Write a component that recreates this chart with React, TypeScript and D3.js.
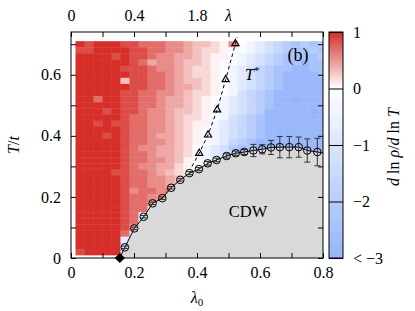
import React, { useEffect, useRef } from "react";
import * as d3 from "d3";

const FONT = "'Liberation Serif', 'DejaVu Serif', serif";

// heat map grid: columns at lambda0 = k * 0.8/28 (k = 1..28), rows at T = 0.02 j
// rows are listed from the top (T = 0.70) down to T = 0.02; "." = hidden under CDW
const lam0Step = 0.8 / 28;
const tStep = 0.02;
const heatRows = [
  "98999 88777 66544 32610 abcde ded",
  "88999 98877 66543 32110 abcde ede",
  "99998 98876 65543 2210a bcdee eed",
  "99999 98756 65443 2110a bcdee fee",
  "99999 88876 65433 210ab cdeef fee",
  "99999 98877 65433 210ab cdeff ffe",
  "99999 48877 65443 210ab cdeff fff",
  "99999 98877 65543 210ab cdeff fff",
  "99999 88776 65433 210bc defff fff",
  "99799 88776 55432 10abc deffg fff",
  "99999 88776 55432 10abc defff fff",
  "99989 88766 54432 10abc dffff fgf",
  "99999 87766 54332 10bcd effff fff",
  "99898 87766 54322 0abcd effff fff",
  "99999 87766 54321 0abcd effff fff",
  "99989 87765 54321 0abcd effff fff",
  "99999 87766 54321 0acde fffff fff",
  "99999 87665 54310 abdee fffff fff",
  "99999 87765 54310 abcde ..... .ff",
  "99999 87766 54210 ab... ..... ...",
  "99999 87665 53210 ..... ..... ...",
  "99998 87765 4321. ..... ..... ...",
  "99999 87766 543.. ..... ..... ...",
  "99999 87766 54... ..... ..... ...",
  "99999 86776 7.... ..... ..... ...",
  "99999 87766 ..... ..... ..... ...",
  "99999 87766 ..... ..... ..... ...",
  "99999 8770. ..... ..... ..... ...",
  "99999 87a.. ..... ..... ..... ...",
  "99999 87a.. ..... ..... ..... ...",
  "99999 86... ..... ..... ..... ...",
  "99999 7a... ..... ..... ..... ...",
  "99999 aa... ..... ..... ..... ...",
  "99999 b.... ..... ..... ..... ...",
  "89999 b.... ..... ..... ..... ...",
];
// d ln rho / d ln T for each level character
const levelValues: Record<string, number> = {
  "9": 1.0, "8": 0.85, "7": 0.7, "6": 0.55, "5": 0.42, "4": 0.3, "3": 0.18, "2": 0.06,
  "1": -0.15, "0": -0.4, a: -0.8, b: -1.2, c: -1.6, d: -2.0, e: -2.4, f: -2.8, g: -3.0,
};

// CDW transition line
const qcpLam0 = 0.155;
const cdwLam0 = [0.171, 0.201, 0.231, 0.259, 0.29, 0.318, 0.347, 0.376, 0.406, 0.434, 0.462,
  0.494, 0.523, 0.55, 0.579, 0.607, 0.635, 0.663, 0.693, 0.723, 0.75, 0.782];
const cdwT = [0.035, 0.097, 0.135, 0.179, 0.196, 0.23, 0.256, 0.278, 0.291, 0.31, 0.321,
  0.334, 0.343, 0.347, 0.352, 0.356, 0.362, 0.363, 0.363, 0.363, 0.352, 0.347];
const cdwErr = [0.004, 0.004, 0.004, 0.004, 0.004, 0.004, 0.004, 0.005, 0.005, 0.006, 0.006,
  0.007, 0.007, 0.008, 0.02, 0.015, 0.023, 0.035, 0.035, 0.033, 0.038, 0.045];

// T* crossover
const tStarLam0 = [0.407, 0.435, 0.464, 0.491, 0.522];
const tStarT = [0.343, 0.403, 0.485, 0.584, 0.702];
const tStarLineLam0 = [0.384, 0.407, 0.435, 0.464, 0.491, 0.522, 0.527];
const tStarLineT = [0.3, 0.343, 0.403, 0.485, 0.584, 0.702, 0.722];

const xTicks = [0, 0.1, 0.2, 0.3, 0.4, 0.5, 0.6, 0.7, 0.8];
const xLabels = [0, 0.2, 0.4, 0.6, 0.8];
const yTicks = [0, 0.1, 0.2, 0.3, 0.4, 0.5, 0.6, 0.7];
const yLabels = [0, 0.2, 0.4, 0.6];
const topTickPos = [0, 0.2, 0.4];
const topTickText = ["0", "0.4", "1.8"];
const cbarTicks = [1, 0, -1, -2, -3];
const cbarText = ["1", "0", "\u22121", "\u22122", "< \u22123"];

const fmt = (d: number) => (d === 0 ? "0" : String(d));

export default function App() {
  const ref = useRef<SVGSVGElement>(null);

  useEffect(() => {
    const svg = d3.select(ref.current);
    svg.selectAll("*").remove();

    const left = 71, right = 323, top = 32, bottom = 258;
    const x = d3.scaleLinear().domain([0, 0.8]).range([left, right]);
    const y = d3.scaleLinear().domain([0, 0.74]).range([bottom, top]);
    const color = d3.scaleLinear<string>().domain([-3, 0, 1])
      .range(["#94b4fa", "#ffffff", "#d62e28"]).clamp(true);

    const defs = svg.append("defs");
    defs.append("clipPath").attr("id", "plotclip").append("rect")
      .attr("x", left).attr("y", top).attr("width", right - left).attr("height", bottom - top);

    // heat map cells
    const cells: { lam: number; t: number; v: number }[] = [];
    heatRows.forEach((row, i) => {
      const j = heatRows.length - i;
      row.replace(/ /g, "").split("").forEach((ch, k) => {
        if (ch === ".") return;
        cells.push({ lam: (k + 1) * lam0Step, t: j * tStep, v: levelValues[ch] });
      });
    });
    const plot = svg.append("g").attr("clip-path", "url(#plotclip)");
    plot.selectAll("rect.cell").data(cells).join("rect")
      .attr("class", "cell")
      .attr("x", (d) => x(d.lam - lam0Step / 2))
      .attr("y", (d) => y(d.t + tStep / 2))
      .attr("width", x(lam0Step) - x(0) + 0.4)
      .attr("height", y(0) - y(tStep) + 0.4)
      .attr("fill", (d) => color(d.v));

    // CDW region
    const n = cdwLam0.length;
    const slope = (cdwT[n - 1] - cdwT[n - 2]) / (cdwLam0[n - 1] - cdwLam0[n - 2]);
    const edgeT = cdwT[n - 1] + slope * (0.8 - cdwLam0[n - 1]);
    const cdwPts: [number, number][] = [
      [qcpLam0, 0],
      ...cdwLam0.map((l, i) => [l, cdwT[i]] as [number, number]),
      [0.8, edgeT],
    ];
    const line = d3.line<[number, number]>().x((d) => x(d[0])).y((d) => y(d[1]));
    plot.append("path")
      .attr("d", line([...cdwPts, [0.8, 0]]) + "Z")
      .attr("fill", "#d9d9d9");

    // axes
    const styleAxis = (g: any) => {
      g.select(".domain").remove();
      g.selectAll("line").attr("stroke", "#000");
      g.selectAll("text").attr("fill", "#000");
      g.attr("font-family", FONT).attr("font-size", 16);
    };
    svg.append("g").attr("transform", `translate(0,${bottom})`)
      .call(d3.axisBottom(x).tickValues(xTicks).tickSize(-5).tickPadding(9)
        .tickFormat((d: any) => (xLabels.includes(d) ? fmt(d) : "")))
      .call(styleAxis);
    svg.append("g").attr("transform", `translate(0,${top})`)
      .call(d3.axisTop(x).tickValues(xTicks).tickSize(-5).tickPadding(11)
        .tickFormat((d: any) => {
          const i = topTickPos.indexOf(d);
          return i >= 0 ? topTickText[i] : "";
        }))
      .call(styleAxis);
    svg.append("g").attr("transform", `translate(${left},0)`)
      .call(d3.axisLeft(y).tickValues(yTicks).tickSize(-5).tickPadding(10)
        .tickFormat((d: any) => (yLabels.includes(d) ? fmt(d) : "")))
      .call(styleAxis);
    svg.append("g").attr("transform", `translate(${right},0)`)
      .call(d3.axisRight(y).tickValues(yTicks).tickSize(-5).tickFormat(() => ""))
      .call(styleAxis);

    svg.append("rect")
      .attr("x", left).attr("y", top).attr("width", right - left).attr("height", bottom - top)
      .attr("fill", "none").attr("stroke", "#000").attr("stroke-width", 1);

    // T* dashed line and triangles
    svg.append("path")
      .datum(tStarLineLam0.map((l, i) => [l, tStarLineT[i]] as [number, number]))
      .attr("d", line)
      .attr("fill", "none").attr("stroke", "#000").attr("stroke-width", 1)
      .attr("stroke-dasharray", "3.5,3");
    svg.append("g").selectAll("path").data(tStarLam0).join("path")
      .attr("transform", (d, i) => `translate(${x(d)},${y(tStarT[i])})`)
      .attr("d", d3.symbol(d3.symbolTriangle, 22)())
      .attr("fill", "none").attr("stroke", "#000").attr("stroke-width", 1.2);

    // CDW line, error bars, circles
    svg.append("path").datum(cdwPts).attr("d", line)
      .attr("fill", "none").attr("stroke", "#000").attr("stroke-width", 1)
      .attr("clip-path", "url(#plotclip)");
    const eb = svg.append("g").attr("stroke", "#333").attr("stroke-width", 1);
    cdwLam0.forEach((l, i) => {
      const cx = x(l), y0 = y(cdwT[i] - cdwErr[i]), y1 = y(cdwT[i] + cdwErr[i]);
      eb.append("line").attr("x1", cx).attr("x2", cx).attr("y1", y0).attr("y2", y1);
      eb.append("line").attr("x1", cx - 3).attr("x2", cx + 3).attr("y1", y0).attr("y2", y0);
      eb.append("line").attr("x1", cx - 3).attr("x2", cx + 3).attr("y1", y1).attr("y2", y1);
    });
    svg.append("g").selectAll("circle").data(cdwLam0).join("circle")
      .attr("cx", (d) => x(d)).attr("cy", (d, i) => y(cdwT[i])).attr("r", 3.8)
      .attr("fill", "none").attr("stroke", "#000").attr("stroke-width", 1);

    svg.append("path")
      .attr("transform", `translate(${x(qcpLam0)},${y(0)}) rotate(45)`)
      .attr("d", d3.symbol(d3.symbolSquare, 52)())
      .attr("fill", "#000");

    // in-plot labels
    svg.append("text").attr("x", 298).attr("y", 61).attr("text-anchor", "middle")
      .attr("font-family", FONT).attr("font-size", 18).text("(b)");
    const ts = svg.append("text").attr("x", 245).attr("y", 80)
      .attr("font-family", FONT).attr("font-size", 16);
    ts.append("tspan").attr("font-style", "italic").text("T");
    ts.append("tspan").attr("font-size", 11).attr("dy", -6).text("*");
    svg.append("text").attr("x", 248).attr("y", 217).attr("text-anchor", "middle")
      .attr("font-family", FONT).attr("font-size", 16.5).text("CDW");

    // axis titles
    const xt = svg.append("text").attr("x", 197).attr("y", 303).attr("text-anchor", "middle")
      .attr("font-family", FONT).attr("font-size", 16);
    xt.append("tspan").attr("font-style", "italic").text("λ");
    xt.append("tspan").attr("font-size", 11).attr("dy", 3).text("0");
    svg.append("text").attr("x", x(0.5)).attr("y", 21).attr("text-anchor", "middle")
      .attr("font-family", FONT).attr("font-size", 16).attr("font-style", "italic").text("λ");
    const yt = svg.append("text").attr("transform", "translate(19,145) rotate(-90)")
      .attr("text-anchor", "middle").attr("font-family", FONT).attr("font-size", 16);
    yt.append("tspan").attr("font-style", "italic").text("T");
    yt.append("tspan").text("/");
    yt.append("tspan").attr("font-style", "italic").text("t");

    // colour bar
    const cbX = 329, cbW = 14;
    const cb = d3.scaleLinear().domain([-3, 1]).range([bottom, top]);
    const grad = defs.append("linearGradient").attr("id", "cbgrad")
      .attr("x1", 0).attr("y1", 0).attr("x2", 0).attr("y2", 1);
    [1, 0, -3].forEach((v) => {
      grad.append("stop")
        .attr("offset", (cb(v) - top) / (bottom - top))
        .attr("stop-color", color(v));
    });
    svg.append("rect").attr("x", cbX).attr("y", top).attr("width", cbW).attr("height", bottom - top)
      .attr("fill", "url(#cbgrad)");
    svg.append("g").attr("transform", `translate(${cbX + cbW},0)`)
      .call(d3.axisRight(cb).tickValues(cbarTicks).tickSize(-cbW).tickPadding(10)
        .tickFormat((d: any, i: number) => cbarText[i]))
      .call(styleAxis);
    svg.append("rect").attr("x", cbX).attr("y", top).attr("width", cbW).attr("height", bottom - top)
      .attr("fill", "none").attr("stroke", "#000").attr("stroke-width", 1);

    const ct = svg.append("text").attr("transform", "translate(399,147) rotate(-90)")
      .attr("text-anchor", "middle").attr("font-family", FONT).attr("font-size", 16);
    ct.append("tspan").attr("font-style", "italic").text("d");
    ct.append("tspan").text(" ln ");
    ct.append("tspan").attr("font-style", "italic").text("ρ");
    ct.append("tspan").text("/");
    ct.append("tspan").attr("font-style", "italic").text("d");
    ct.append("tspan").text(" ln ");
    ct.append("tspan").attr("font-style", "italic").text("T");
  }, []);

  return (
    <div style={{ position: "absolute", left: 0, top: 0 }}>
      <svg ref={ref} width={415} height={311} />
    </div>
  );
}
